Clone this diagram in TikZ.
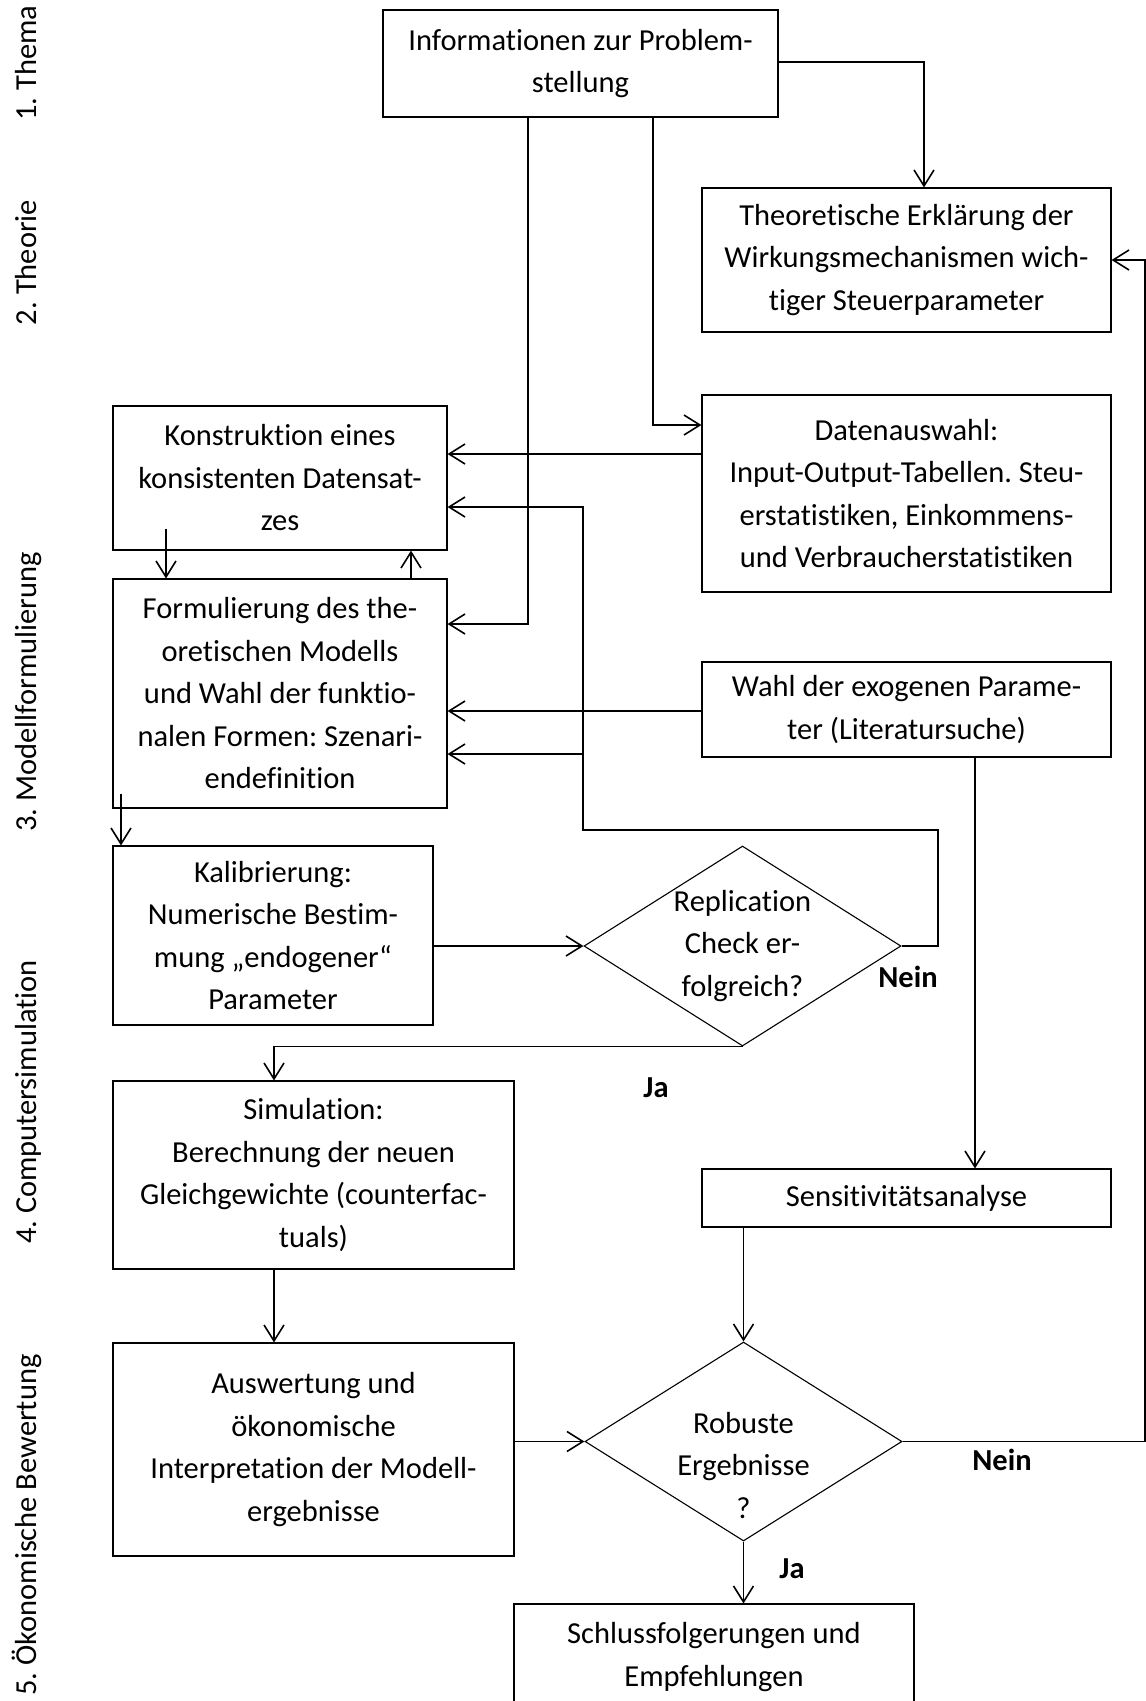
\documentclass[tikz,border=0pt]{standalone}
\usepackage{fontspec}
\setmainfont{Carlito}[Ligatures={NoCommon}]
\frenchspacing
\usetikzlibrary{arrows.meta,shapes.geometric}

\tikzset{
  box/.style={draw, line width=1.1pt, align=center, inner sep=0pt},
  decision/.style={draw, diamond, line width=1.1pt, inner sep=0pt},
  conn/.style={line width=1.6pt, -{Straight Barb[length=16pt,width=20pt]}},
  wire/.style={line width=1.6pt},
  answer/.style={font=\fontsize{30.5}{42.5}\selectfont\bfseries},
  phase/.style={rotate=90, anchor=base},
}

\begin{document}
\begin{tikzpicture}[x=1pt,y=1pt,yscale=-1,xscale=1,
    every node/.append style={font=\fontsize{30.5}{42.5}\selectfont}]
  \useasboundingbox (0,0) rectangle (1146,1701); %page of 1146 x 1701

  % Phase labels
  \node[phase] (ph-thema) at (36,63) {1. Thema};
  \node[phase] (ph-theorie) at (36,262.5) {2. Theorie};
  \node[phase] (ph-modell) at (36,692) {3. Modellformulierung};
  \node[phase] (ph-simul) at (36,1102) {4. Computersimulation};
  \node[phase] (ph-bewert) at (36,1525) {5. Ökonomische Bewertung};

  %Shape: Rectangle
  \node[box, minimum width=395, minimum height=107] (info) at (580.5,63.5) {Informationen zur Problem-\\stellung};
  %Shape: Rectangle
  \node[box, minimum width=409, minimum height=144] (theo) at (906.5,260) {Theoretische Erklärung der\\Wirkungsmechanismen wich-\\tiger Steuerparameter};
  %Shape: Rectangle
  \node[box, minimum width=409, minimum height=197] (daten) at (906.5,493.5) {Datenauswahl:\\Input-Output-Tabellen. Steu-\\erstatistiken, Einkommens-\\und Verbraucherstatistiken};
  %Shape: Rectangle
  \node[box, minimum width=334, minimum height=144] (konst) at (280,478) {Konstruktion eines\\konsistenten Datensat-\\zes};
  %Shape: Rectangle
  \node[box, minimum width=334, minimum height=229] (form) at (280,693.5) {Formulierung des the-\\oretischen Modells\\und Wahl der funktio-\\nalen Formen: Szenari-\\endefinition};
  %Shape: Rectangle
  \node[box, minimum width=409, minimum height=95] (wahl) at (906.5,709.5) {Wahl der exogenen Parame-\\ter (Literatursuche)};
  %Shape: Rectangle
  \node[box, minimum width=320, minimum height=179] (kalib) at (273,935.5) {Kalibrierung:\\Numerische Bestim-\\mung „endogener“\\Parameter};
  %Shape: Diamond
  \node[decision, minimum width=317, minimum height=200] (repl) at (742.5,946) {};
  \node[align=center] (repl-txt) at (repl.center) {Replication\\Check er-\\folgreich?};
  %Shape: Rectangle
  \node[box, minimum width=401, minimum height=188] (sim) at (313.5,1175) {Simulation:\\Berechnung der neuen\\Gleichgewichte (counterfac-\\tuals)};
  %Shape: Rectangle
  \node[box, minimum width=409, minimum height=58] (sens) at (906.5,1198) {Sensitivitätsanalyse};
  %Shape: Rectangle
  \node[box, minimum width=401, minimum height=213] (ausw) at (313.5,1449.5) {Auswertung und\\ökonomische\\Interpretation der Modell-\\ergebnisse};
  %Shape: Diamond
  \node[decision, minimum width=317, minimum height=199] (rob) at (743.5,1441.5) {};
  \node[align=center] (rob-txt) at (743.5,1465) {Robuste\\Ergebnisse\\?};
  %Shape: Rectangle
  \node[box, minimum width=400, minimum height=106] (schluss) at (714,1657) {Schlussfolgerungen und\\Empfehlungen};

  % Text Node
  \node[answer] (repl-nein) at (908,977) {Nein};
  \node[answer] (repl-ja) at (656,1088) {Ja};
  \node[answer] (rob-nein) at (1002,1460) {Nein};
  \node[answer] (rob-ja) at (792,1569) {Ja};

  % Connectors
  \draw[conn] (info.east |- 0,62) -| (theo.north -| 924,0);
  \draw[conn] (info.south -| 653,0) |- (daten.west |- 0,425);
  \draw[conn] (info.south -| 528,0) |- (form.east |- 0,624);
  \draw[conn] (daten.west |- 0,454) -- (konst.east |- 0,454);
  \draw[conn] (konst.south -| 166,0) ++(0,-22) -- (form.north -| 166,0);
  \draw[conn] (form.north -| 411,0) -- (konst.south -| 411,0);
  \draw[conn] (wahl.west |- 0,711) -- (form.east |- 0,711);
  \draw[conn] (repl.east) -| (938,830) -| (583,507) -- (konst.east |- 0,507);
  \coordinate (loop-split) at (583,754);
  \draw[conn] (loop-split) -- (form.east |- loop-split);
  \draw[conn] (form.south -| 121,0) ++(0,-15) -- (kalib.north -| 121,0);
  \draw[conn] (kalib.east |- repl.west) -- (repl.west);
  \draw[conn] (repl.south) -| (sim.north -| 274,0);
  \draw[conn] (sim.south -| 274,0) -- (ausw.north -| 274,0);
  \draw[conn] (wahl.south -| 975,0) -- (sens.north -| 975,0);
  \draw[conn] (sens.south -| rob.north) -- (rob.north);
  \draw[conn] (ausw.east |- rob.west) -- (rob.west);
  \draw[conn] (rob.south) -- (schluss.north -| rob.south);
  \draw[conn] (rob.east) -| (1145,260) -- (theo.east |- 0,260);
\end{tikzpicture}
\end{document}
